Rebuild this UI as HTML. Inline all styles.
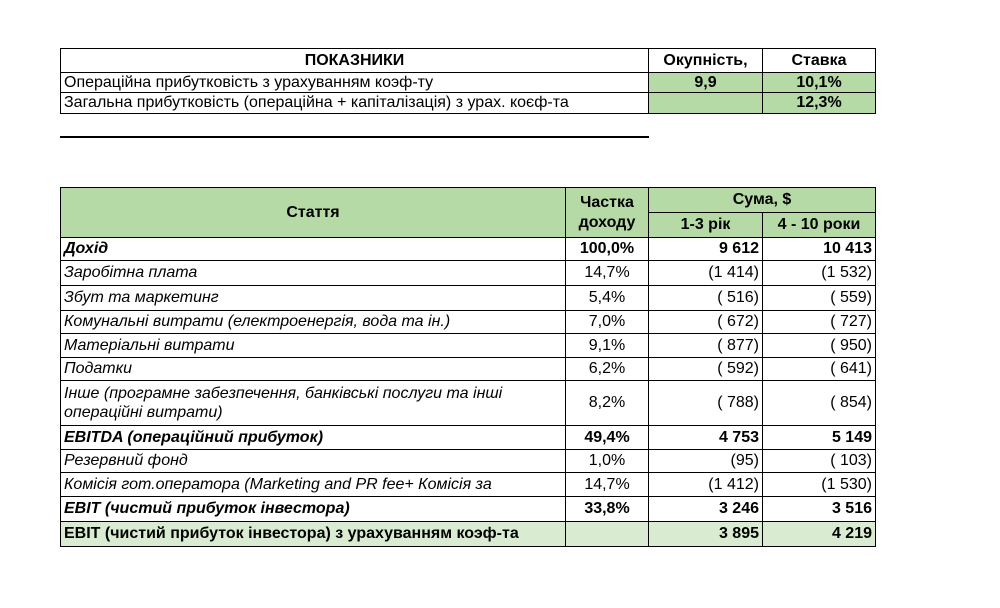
<!DOCTYPE html>
<html><head><meta charset="utf-8"><style>
body{margin:0;background:#fff;width:1000px;height:608px;position:relative;overflow:hidden;font-family:"Liberation Sans",Arial,sans-serif;color:#000}
.c{position:absolute;box-sizing:border-box;border:1px solid #000;display:flex;align-items:center;padding:0 3px;font-size:16px;line-height:18px;white-space:nowrap}
.r{justify-content:flex-end}.m{justify-content:center;text-align:center}
.b{font-weight:bold}.i{font-style:italic}
.g{background:#b6daa6}.lg{background:#d9ecd1}
</style></head><body>
<div class="c m b" style="left:60px;top:48px;width:589px;height:25px">ПОКАЗНИКИ</div>
<div class="c m b" style="left:648px;top:48px;width:115px;height:25px">Окупність,</div>
<div class="c m b" style="left:762px;top:48px;width:114px;height:25px">Ставка</div>
<div class="c" style="left:60px;top:72px;width:589px;height:21px">Операційна прибутковість з урахуванням коэф-ту</div>
<div class="c m b g" style="left:648px;top:72px;width:115px;height:21px">9,9</div>
<div class="c m b g" style="left:762px;top:72px;width:114px;height:21px">10,1%</div>
<div class="c" style="left:60px;top:92px;width:589px;height:22px">Загальна прибутковість (операційна + капіталізація) з урах. коєф-та</div>
<div class="c m b g" style="left:648px;top:92px;width:115px;height:22px"></div>
<div class="c m b g" style="left:762px;top:92px;width:114px;height:22px">12,3%</div>
<div style="position:absolute;left:60px;top:136px;width:589px;height:2px;background:#000"></div>

<div class="c m b g" style="left:60px;top:187px;width:506px;height:51px">Стаття</div>
<div class="c m b g" style="left:565px;top:187px;width:84px;height:51px;white-space:normal;line-height:20px">Частка доходу</div>
<div class="c m b g" style="left:648px;top:187px;width:228px;height:26px">Сума, $</div>
<div class="c m b g" style="left:648px;top:212px;width:115px;height:26px">1-3 рік</div>
<div class="c m b g" style="left:762px;top:212px;width:114px;height:26px">4 - 10 роки</div>

<div class="c b i" style="left:60px;top:237px;width:506px;height:24px">Дохід</div>
<div class="c m b" style="left:565px;top:237px;width:84px;height:24px">100,0%</div>
<div class="c r b" style="left:648px;top:237px;width:115px;height:24px">9 612</div>
<div class="c r b" style="left:762px;top:237px;width:114px;height:24px">10 413</div>

<div class="c i" style="left:60px;top:260px;width:506px;height:26px">Заробітна плата</div>
<div class="c m" style="left:565px;top:260px;width:84px;height:26px">14,7%</div>
<div class="c r" style="left:648px;top:260px;width:115px;height:26px">(1 414)</div>
<div class="c r" style="left:762px;top:260px;width:114px;height:26px">(1 532)</div>

<div class="c i" style="left:60px;top:285px;width:506px;height:26px">Збут та маркетинг</div>
<div class="c m" style="left:565px;top:285px;width:84px;height:26px">5,4%</div>
<div class="c r" style="left:648px;top:285px;width:115px;height:26px">( 516)</div>
<div class="c r" style="left:762px;top:285px;width:114px;height:26px">( 559)</div>

<div class="c i" style="left:60px;top:310px;width:506px;height:24px">Комунальні витрати (електроенергія, вода та ін.)</div>
<div class="c m" style="left:565px;top:310px;width:84px;height:24px">7,0%</div>
<div class="c r" style="left:648px;top:310px;width:115px;height:24px">( 672)</div>
<div class="c r" style="left:762px;top:310px;width:114px;height:24px">( 727)</div>

<div class="c i" style="left:60px;top:333px;width:506px;height:25px">Матеріальні витрати</div>
<div class="c m" style="left:565px;top:333px;width:84px;height:25px">9,1%</div>
<div class="c r" style="left:648px;top:333px;width:115px;height:25px">( 877)</div>
<div class="c r" style="left:762px;top:333px;width:114px;height:25px">( 950)</div>

<div class="c i" style="left:60px;top:357px;width:506px;height:24px">Податки</div>
<div class="c m" style="left:565px;top:357px;width:84px;height:24px">6,2%</div>
<div class="c r" style="left:648px;top:357px;width:115px;height:24px">( 592)</div>
<div class="c r" style="left:762px;top:357px;width:114px;height:24px">( 641)</div>

<div class="c i" style="left:60px;top:380px;width:506px;height:46px;white-space:normal;line-height:19px">Інше (програмне забезпечення, банківські послуги та інші<br>операційні витрати)</div>
<div class="c m" style="left:565px;top:380px;width:84px;height:46px">8,2%</div>
<div class="c r" style="left:648px;top:380px;width:115px;height:46px">( 788)</div>
<div class="c r" style="left:762px;top:380px;width:114px;height:46px">( 854)</div>

<div class="c b i" style="left:60px;top:425px;width:506px;height:25px">EBITDA (операційний прибуток)</div>
<div class="c m b" style="left:565px;top:425px;width:84px;height:25px">49,4%</div>
<div class="c r b" style="left:648px;top:425px;width:115px;height:25px">4 753</div>
<div class="c r b" style="left:762px;top:425px;width:114px;height:25px">5 149</div>

<div class="c i" style="left:60px;top:449px;width:506px;height:24px">Резервний фонд</div>
<div class="c m" style="left:565px;top:449px;width:84px;height:24px">1,0%</div>
<div class="c r" style="left:648px;top:449px;width:115px;height:24px">(95)</div>
<div class="c r" style="left:762px;top:449px;width:114px;height:24px">( 103)</div>

<div class="c i" style="left:60px;top:472px;width:506px;height:25px">Комісія гот.оператора (Marketing and PR fee+ Комісія за</div>
<div class="c m" style="left:565px;top:472px;width:84px;height:25px">14,7%</div>
<div class="c r" style="left:648px;top:472px;width:115px;height:25px">(1 412)</div>
<div class="c r" style="left:762px;top:472px;width:114px;height:25px">(1 530)</div>

<div class="c b i" style="left:60px;top:496px;width:506px;height:26px">EBIT (чистий прибуток інвестора)</div>
<div class="c m b" style="left:565px;top:496px;width:84px;height:26px">33,8%</div>
<div class="c r b" style="left:648px;top:496px;width:115px;height:26px">3 246</div>
<div class="c r b" style="left:762px;top:496px;width:114px;height:26px">3 516</div>

<div class="c b lg" style="left:60px;top:521px;width:506px;height:26px">EBIT (чистий прибуток інвестора) з урахуванням коэф-та</div>
<div class="c m b lg" style="left:565px;top:521px;width:84px;height:26px"></div>
<div class="c r b lg" style="left:648px;top:521px;width:115px;height:26px">3 895</div>
<div class="c r b lg" style="left:762px;top:521px;width:114px;height:26px">4 219</div>
</body></html>
